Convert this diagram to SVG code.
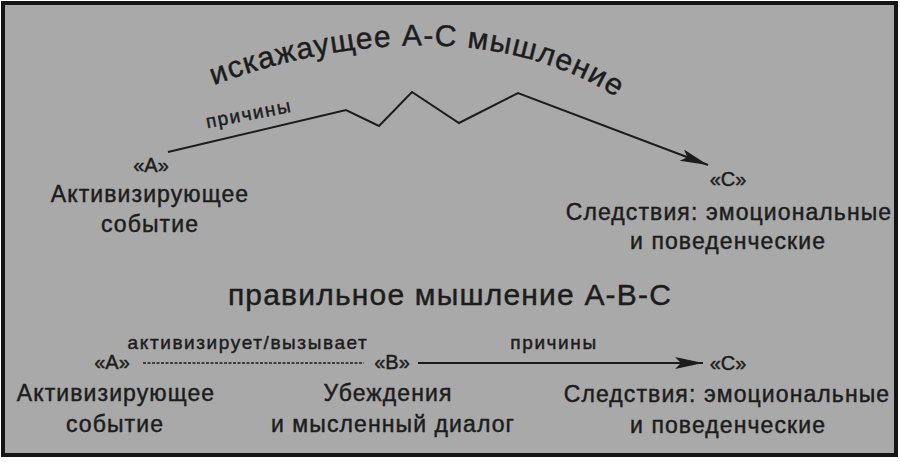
<svg xmlns="http://www.w3.org/2000/svg" width="900" height="462" viewBox="0 0 900 462">
  <style>
    text { font-family: "Liberation Sans", Arial, sans-serif; fill: #1c1c1c; stroke: #1c1c1c; stroke-width: 0.45px; }
    .lbl { font-size: 23px; letter-spacing: 1.1px; text-anchor: middle; }
    .key { font-size: 20px; text-anchor: middle; }
    .edge { font-size: 19px; letter-spacing: 1.6px; text-anchor: middle; }
    .title { font-size: 30px; letter-spacing: 1.2px; }
    .conn { fill: none; stroke: #1c1c1c; stroke-width: 2; stroke-linejoin: miter; }
    .dot { fill: none; stroke: #1c1c1c; stroke-width: 1.6; stroke-dasharray: 3 1.5; }
  </style>
  <defs>
    <marker id="arrow" markerUnits="userSpaceOnUse" markerWidth="30" markerHeight="14" refX="28" refY="6" orient="auto">
      <path d="M0,0 L28,6 L0,12 L6,6 Z" fill="#1c1c1c"/>
    </marker>
    <path id="arc" d="M 212,86 C 330,40 505,18 626,104"/>
  </defs>

  <rect x="0" y="0" width="900" height="462" fill="#ffffff"/>
  <rect x="3" y="3" width="893" height="452" fill="#a9a9a9" stroke="#151515" stroke-width="4"/>

  <g id="title-distorted">
    <text class="title"><textPath href="#arc" startOffset="2">искажаущее А-С мышление</textPath></text>
  </g>

  <g id="title-correct">
    <text class="title" x="450" y="305" text-anchor="middle">правильное мышление А-В-С</text>
  </g>

  <g id="connectors">
    <polyline class="conn" points="168,152 346,110 379,126 412,92 459,123 518,93 708,165" marker-end="url(#arrow)"/>
    <text class="edge" x="250" y="120" transform="rotate(-11 250 120)">причины</text>
    <line class="dot" x1="143" y1="363" x2="364" y2="363"/>
    <text class="edge" x="248" y="349">активизирует/вызывает</text>
    <line class="conn" x1="418" y1="363" x2="703" y2="363" marker-end="url(#arrow)"/>
    <text class="edge" x="554" y="349">причины</text>
  </g>

  <g id="top-A">
    <text class="key" x="151" y="172">«А»</text>
    <text class="lbl" x="150" y="202">Активизирующее</text>
    <text class="lbl" x="150" y="232">событие</text>
  </g>

  <g id="top-C">
    <text class="key" x="728" y="186">«С»</text>
    <text class="lbl" x="729" y="220">Следствия: эмоциональные</text>
    <text class="lbl" x="728" y="249">и поведенческие</text>
  </g>

  <g id="bottom-A">
    <text class="key" x="112" y="369">«А»</text>
    <text class="lbl" x="116" y="401">Активизирующее</text>
    <text class="lbl" x="115" y="432">событие</text>
  </g>

  <g id="bottom-B">
    <text class="key" x="392" y="369">«В»</text>
    <text class="lbl" x="388" y="401">Убеждения</text>
    <text class="lbl" x="393" y="432">и мысленный диалог</text>
  </g>

  <g id="bottom-C">
    <text class="key" x="728" y="370">«С»</text>
    <text class="lbl" x="727" y="402">Следствия: эмоциональные</text>
    <text class="lbl" x="728" y="433">и поведенческие</text>
  </g>
</svg>
